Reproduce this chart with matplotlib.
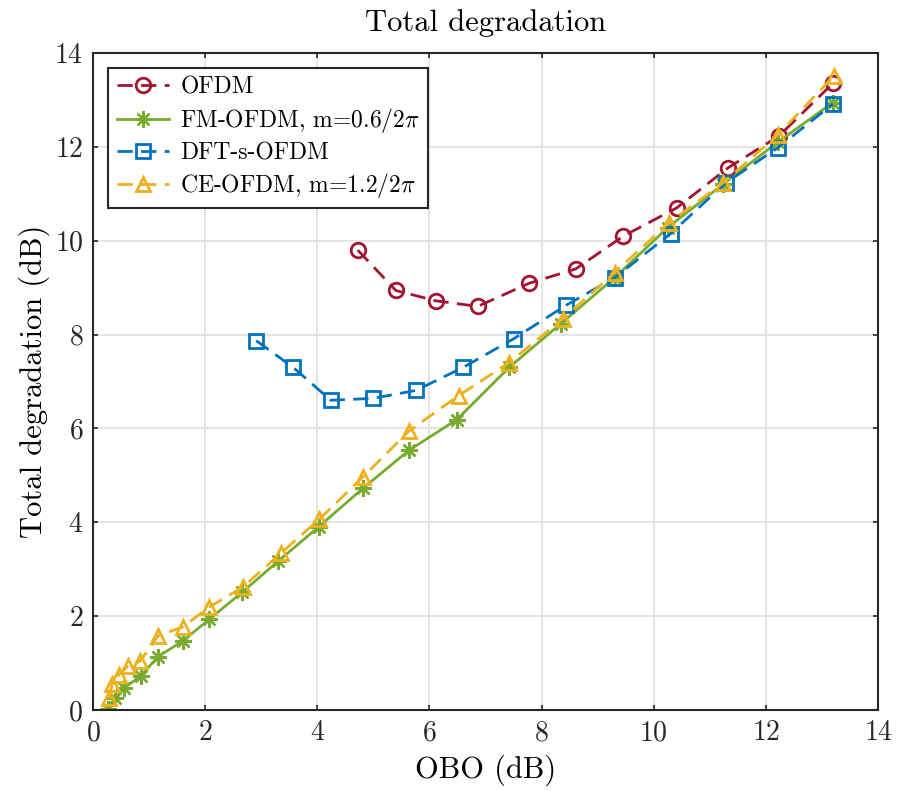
import matplotlib
matplotlib.use('Agg')
import matplotlib.pyplot as plt

plt.rcParams['font.family'] = 'serif'
plt.rcParams['font.serif'] = ['cmr10']
plt.rcParams['mathtext.fontset'] = 'cm'
plt.rcParams['axes.unicode_minus'] = False
plt.rcParams['axes.formatter.use_mathtext'] = True

# OFDM
ofdm_x = [4.72, 5.40, 6.11, 6.86, 7.77, 8.61, 9.46, 10.41, 11.32, 12.23, 13.20]
ofdm_y = [9.80, 8.94, 8.72, 8.60, 9.09, 9.40, 10.10, 10.70, 11.55, 12.23, 13.36]

# FM-OFDM
fm_x = [0.27, 0.40, 0.55, 0.85, 1.15, 1.60, 2.07, 2.66, 3.30, 4.03, 4.81, 5.63,
        6.49, 7.42, 8.34, 9.30, 10.25, 11.23, 12.21, 13.19]
fm_y = [0.03, 0.25, 0.47, 0.72, 1.13, 1.47, 1.93, 2.51, 3.17, 3.91, 4.72, 5.53,
        6.19, 7.30, 8.23, 9.21, 10.28, 11.20, 12.10, 12.94]

# DFT-s-OFDM
dft_x = [2.91, 3.57, 4.24, 4.99, 5.76, 6.60, 7.50, 8.43, 9.30, 10.30, 11.28, 12.21, 13.19]
dft_y = [7.87, 7.30, 6.60, 6.64, 6.81, 7.30, 7.91, 8.62, 9.21, 10.15, 11.23, 11.98, 12.91]

# CE-OFDM
ce_x = [0.29, 0.34, 0.46, 0.62, 0.84, 1.16, 1.60, 2.07, 2.67, 3.35, 4.03, 4.81,
        5.63, 6.52, 7.42, 8.38, 9.30, 10.27, 11.23, 12.21, 13.21]
ce_y = [0.25, 0.55, 0.75, 0.93, 1.04, 1.58, 1.77, 2.19, 2.62, 3.34, 4.06, 4.96,
        5.94, 6.70, 7.40, 8.34, 9.32, 10.38, 11.23, 12.25, 13.51]

fig = plt.figure(figsize=(8.97, 7.91), dpi=100)
ax = fig.add_axes([0.1037, 0.1024, 0.8752, 0.8306])

lw = 2.0
ms = 10.5
dash = (5.5, 3)
ax.plot(ofdm_x, ofdm_y, '--o', color='#A2142F', lw=lw, ms=ms, mfc='none', mew=2,
        dashes=dash, label='OFDM')
ax.plot(fm_x, fm_y, '-', marker=(8, 2, 0), color='#77AC30', lw=lw, ms=12, mew=1.7,
        label=r'FM-OFDM, m=0.6/2$\pi$')
ax.plot(dft_x, dft_y, '--s', color='#0072BD', lw=lw, ms=ms - 1, mfc='none', mew=2,
        dashes=dash, label='DFT-s-OFDM')
ax.plot(ce_x, ce_y, '--^', color='#EDB120', lw=lw, ms=ms, mfc='none', mew=2,
        dashes=dash, label=r'CE-OFDM, m=1.2/2$\pi$')

ax.set_xlim(0, 14)
ax.set_ylim(0, 14)
ax.set_xticks(range(0, 15, 2))
ax.set_yticks(range(0, 15, 2))
ax.grid(True, color='#dfdfdf', lw=1.2)
ax.set_axisbelow(True)
ax.tick_params(direction='in', top=True, right=True, labelsize=20, length=3.5,
               width=1.2, colors='#262626', pad=7)
for s in ax.spines.values():
    s.set_linewidth(1.5)
    s.set_color('#262626')

ax.set_xlabel('OBO (dB)', fontsize=22, labelpad=6)
ax.set_ylabel('Total degradation (dB)', fontsize=22, labelpad=3)
ax.set_title('Total degradation', fontsize=22, pad=16)

leg = ax.legend(loc='upper left', fontsize=17, fancybox=False, framealpha=1,
                edgecolor='#262626', borderaxespad=0.65, handlelength=2.2,
                handletextpad=0.5, labelspacing=0.3, borderpad=0.35)
leg.get_frame().set_linewidth(1.5)

fig.savefig('out.png', dpi=100)
